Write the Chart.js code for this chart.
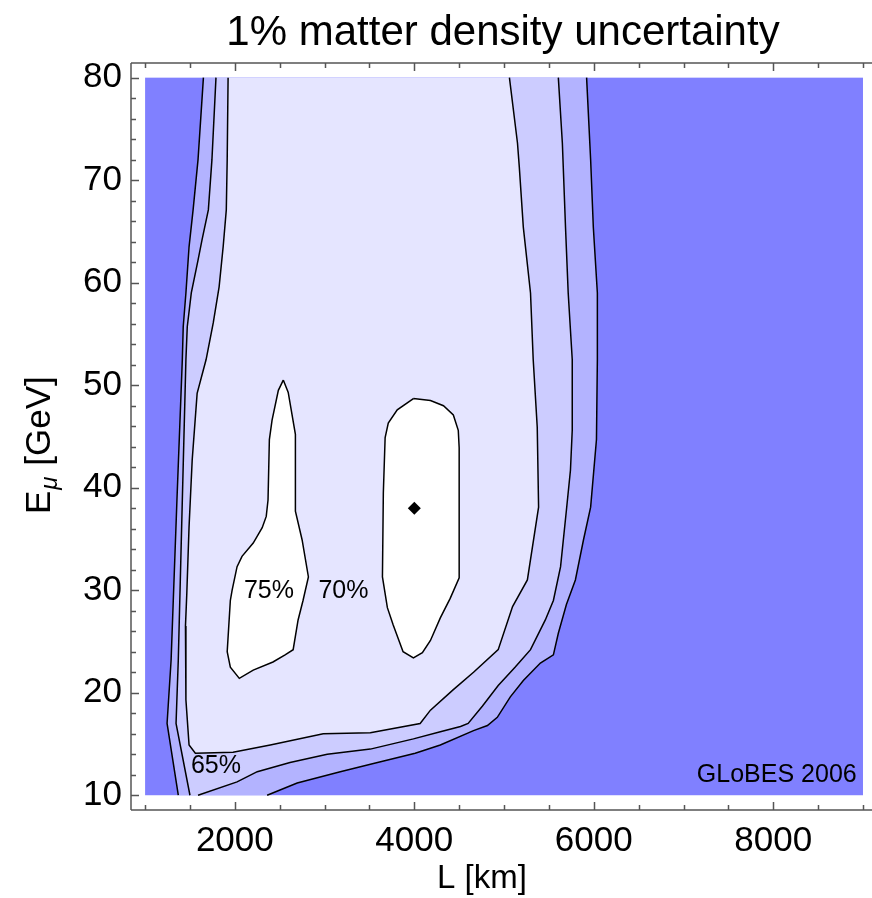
<!DOCTYPE html>
<html>
<head>
<meta charset="utf-8">
<title>1% matter density uncertainty</title>
<script src="https://cdn.jsdelivr.net/npm/chart.js@4.4.1/dist/chart.umd.min.js"></script>
<style>
  html, body { margin: 0; padding: 0; background: #fff; }
  #wrap { width: 872px; height: 898px; }
</style>
</head>
<body>
<div id="wrap"><canvas id="myChart" width="872" height="898"></canvas></div>
<script>
// plotted region (L in km, E in GeV)
var lRange = [1000, 9000];
var eRange = [10, 80];

// tick labels
var lTicks = [2000, 4000, 6000, 8000];
var eTicks = [10, 20, 30, 40, 50, 60, 70, 80];

// 60% contour: left branch, then the bottom / right branch
var c60Left = [[1650, 80], [1590, 72.0], [1535, 67.1], [1490, 63.5], [1455, 59.0], [1425, 55.7],
  [1415, 52.5], [1355, 38.8], [1290, 23.2], [1245, 17.0], [1370, 10]];
var c60Right = [[2360, 10], [2695, 11.2], [3175, 12.3], [3545, 13.1], [4010, 14.1], [4290, 14.9],
  [4660, 16.3], [4815, 16.8], [4925, 17.6], [5070, 19.6], [5215, 21.2], [5405, 22.9], [5550, 23.7],
  [5605, 25.8], [5695, 28.6], [5795, 31.0], [5885, 34.9], [5965, 38.1], [6030, 44.7], [6040, 52.5],
  [6040, 59.0], [5995, 65.4], [5965, 72.0], [5920, 80]];

// 65% contour
var c65Left = [[1790, 80], [1745, 72.0], [1705, 67.1], [1635, 64.2], [1590, 62.2], [1515, 59.0],
  [1470, 55.7], [1455, 52.5], [1415, 38.8], [1370, 23.2], [1345, 17.0], [1500, 10]];
var c65Right = [[1590, 10], [2025, 11.3], [2250, 12.3], [2615, 13.2], [3030, 14.0], [3510, 14.5],
  [3990, 15.5], [4290, 16.2], [4515, 16.7], [4600, 17.0], [4760, 18.7], [4935, 20.7], [5125, 22.5],
  [5295, 24.2], [5460, 27.1], [5550, 29.0], [5630, 32.3], [5695, 37.8], [5740, 41.7], [5760, 45.6],
  [5760, 52.5], [5715, 59.0], [5685, 65.4], [5650, 73.6], [5605, 80]];

// 70% contour
var c70 = [[1925, 80], [1915, 72.0], [1905, 67.1], [1870, 63.5], [1825, 59.6], [1760, 56.1],
  [1680, 52.5], [1580, 49.2], [1525, 42.7], [1490, 36.2], [1465, 29.7], [1450, 26.5], [1455, 19.3],
  [1490, 14.9], [1560, 14.1], [1980, 14.2], [2395, 14.9], [2985, 16.0], [3510, 16.1], [4065, 17.0],
  [4180, 18.3], [4435, 20.3], [4660, 22.0], [4935, 24.2], [5095, 28.4], [5260, 31.0], [5385, 38.1],
  [5370, 45.9], [5325, 52.5], [5295, 59.0], [5215, 65.4], [5170, 71.3], [5150, 73.6], [5060, 80]];

// 75% islands
var c75a = [[2540, 50.5], [2595, 49.3], [2675, 45.2], [2675, 37.7], [2750, 34.9], [2820, 31.3],
  [2760, 29.0], [2705, 27.1], [2650, 24.2], [2560, 23.7], [2425, 23.0], [2205, 22.2], [2050, 21.4],
  [1950, 22.5], [1915, 24.0], [1950, 29.0], [1970, 30.0], [2025, 32.3], [2080, 33.3], [2205, 34.6],
  [2305, 36.1], [2350, 37.2], [2370, 38.8], [2385, 44.7], [2415, 46.6], [2485, 49.5]];
var c75b = [[3990, 48.7], [4180, 48.5], [4325, 48.0], [4435, 47.1], [4490, 45.6], [4500, 43.9],
  [4500, 31.2], [4400, 29.2], [4290, 27.3], [4180, 25.1], [4090, 23.9], [3990, 23.4], [3875, 24.0],
  [3765, 26.6], [3700, 28.3], [3645, 31.3], [3655, 39.5], [3675, 44.9], [3710, 46.3], [3810, 47.6]];

// best point
var bestL = [4000];
var bestE = [38];

// contour labels
var labelText = ['75%', '70%', '65%'];
var labelL = [2380, 3210, 1790];
var labelE = [29.9, 29.9, 12.8];

var FONT = '"Liberation Sans", Arial, sans-serif';

function toXY(points, closed) {
  var data = points.map(function (p) { return {x: p[0], y: p[1]}; });
  if (closed) data.push({x: points[0][0], y: points[0][1]});
  return data;
}

// filled band, no outline
function band(points, color, order) {
  return {
    data: toXY(points, true),
    showLine: true,
    fill: 'shape',
    backgroundColor: color,
    borderWidth: 0,
    borderColor: 'rgba(0,0,0,0)',
    pointRadius: 0,
    tension: 0,
    order: order
  };
}

// contour line only
function contour(points, closed) {
  return {
    data: toXY(points, closed),
    showLine: true,
    fill: false,
    borderColor: '#000',
    borderWidth: 1.5,
    pointRadius: 0,
    tension: 0,
    order: 1
  };
}

var datasets = [
  band(c60Left.concat(c60Right), '#b3b3ff', 6),
  band(c65Left.concat(c65Right), '#ccccff', 5),
  band(c70, '#e5e5ff', 4),
  band(c75a, '#ffffff', 3),
  band(c75b, '#ffffff', 3),
  contour(c60Left), contour(c60Right),
  contour(c65Left), contour(c65Right),
  contour(c70),
  contour(c75a, true), contour(c75b, true),
  {
    data: bestL.map(function (l, i) { return {x: l, y: bestE[i]}; }),
    showLine: false,
    pointStyle: 'rectRot',
    pointRadius: 6.5,
    backgroundColor: '#000',
    borderColor: '#000',
    borderWidth: 0,
    order: 0
  }
];

// background, frame, inward ticks and the texts
var decor = {
  id: 'decor',
  beforeDatasetsDraw: function (chart) {
    var ctx = chart.ctx, x = chart.scales.x, y = chart.scales.y;
    var x0 = x.getPixelForValue(lRange[0]), x1 = x.getPixelForValue(lRange[1]);
    var y0 = y.getPixelForValue(eRange[1]), y1 = y.getPixelForValue(eRange[0]);
    ctx.save();
    ctx.fillStyle = '#8080ff';
    ctx.fillRect(x0, y0, x1 - x0, y1 - y0);
    ctx.restore();
  },
  afterDraw: function (chart) {
    var ctx = chart.ctx, a = chart.chartArea, x = chart.scales.x, y = chart.scales.y;
    ctx.save();
    ctx.strokeStyle = '#555';
    ctx.lineWidth = 1.5;
    ctx.beginPath();
    ctx.moveTo(a.left, a.top); ctx.lineTo(chart.width, a.top);
    ctx.moveTo(a.left, a.top); ctx.lineTo(a.left, a.bottom);
    ctx.moveTo(a.left, a.bottom); ctx.lineTo(chart.width, a.bottom);
    var v, p, len;
    for (v = lRange[0]; v <= lRange[1]; v += 500) {
      p = Math.round(x.getPixelForValue(v)) + 0.5;
      len = lTicks.indexOf(v) >= 0 ? 8 : 5;
      ctx.moveTo(p, a.top); ctx.lineTo(p, a.top + len);
      ctx.moveTo(p, a.bottom); ctx.lineTo(p, a.bottom - len);
    }
    for (v = eRange[0]; v <= eRange[1]; v += 2) {
      p = Math.round(y.getPixelForValue(v)) + 0.5;
      len = eTicks.indexOf(v) >= 0 ? 8 : 5;
      ctx.moveTo(a.left, p); ctx.lineTo(a.left + len, p);
    }
    ctx.stroke();

    ctx.fillStyle = '#000';
    ctx.textAlign = 'center';
    ctx.textBaseline = 'alphabetic';
    ctx.font = '42px ' + FONT;
    ctx.fillText('1% matter density uncertainty', 503, 45);

    ctx.font = '33px ' + FONT;
    ctx.fillText('L [km]', 482, 888);

    // vertical axis title with subscript
    ctx.save();
    ctx.translate(50, 514);
    ctx.rotate(-Math.PI / 2);
    ctx.textAlign = 'left';
    ctx.font = '35px ' + FONT;
    ctx.fillText('E', 0, 0);
    var w = ctx.measureText('E').width;
    ctx.font = 'italic 24px ' + FONT;
    ctx.fillText('\u03bc', w + 1, 7);
    w += ctx.measureText('\u03bc').width + 2;
    ctx.font = '35px ' + FONT;
    ctx.fillText(' [GeV]', w, 0);
    ctx.restore();

    ctx.font = '25px ' + FONT;
    ctx.textBaseline = 'middle';
    for (var i = 0; i < labelText.length; i++) {
      ctx.fillText(labelText[i], x.getPixelForValue(labelL[i]), y.getPixelForValue(labelE[i]));
    }
    ctx.textAlign = 'right';
    ctx.fillText('GLoBES 2006', x.getPixelForValue(8930), y.getPixelForValue(12.0));
    ctx.restore();
  }
};

var ctx = document.getElementById('myChart').getContext('2d');
var myChart = new Chart(ctx, {
  type: 'scatter',
  data: {datasets: datasets},
  options: {
    responsive: false,
    devicePixelRatio: 1,
    animation: false,
    events: [],
    layout: {padding: {top: 63, right: 0, left: 0, bottom: 0}},
    plugins: {legend: {display: false}, tooltip: {enabled: false}, title: {display: false}},
    scales: {
      x: {
        type: 'linear',
        min: 843,
        max: 9028,
        afterBuildTicks: function (s) { s.ticks = lTicks.map(function (v) { return {value: v}; }); },
        afterFit: function (s) { s.height = 88; s.paddingLeft = 0; s.paddingRight = 0; },
        grid: {display: false, drawTicks: false},
        border: {display: false},
        ticks: {
          color: '#000', font: {family: FONT, size: 35}, padding: 10, maxRotation: 0, autoSkip: false,
          callback: function (v) { return String(v); }
        }
      },
      y: {
        type: 'linear',
        min: 8.56,
        max: 81.43,
        afterBuildTicks: function (s) { s.ticks = eTicks.map(function (v) { return {value: v}; }); },
        afterFit: function (s) { s.width = 131; s.paddingTop = 0; s.paddingBottom = 0; },
        grid: {display: false, drawTicks: false},
        border: {display: false},
        ticks: {color: '#000', font: {family: FONT, size: 35}, padding: 9}
      }
    }
  },
  plugins: [decor]
});
</script>
</body>
</html>
